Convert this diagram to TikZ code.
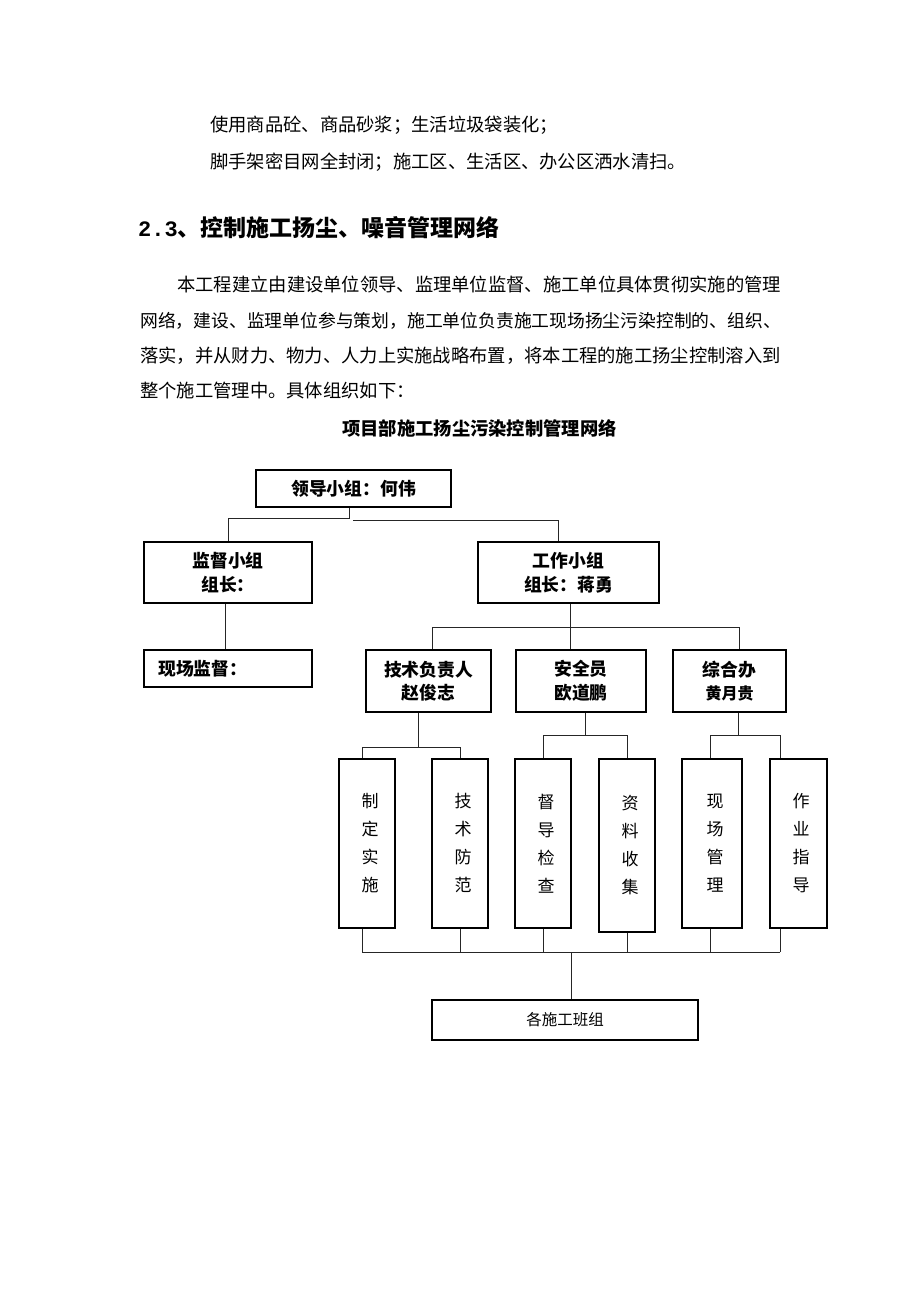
\documentclass[tikz,border=0pt]{standalone}
\usepackage{fontspec}
\setmainfont{Noto Sans CJK SC}
\newfontfamily\monof{Liberation Mono}
\begin{document}
\begin{tikzpicture}[x=1pt,y=-1pt,
  txt/.style={inner sep=0pt,anchor=west,font=\fontsize{18.3}{20}\selectfont},
  box/.style={draw,line width=1.7pt,inner sep=0pt,align=center},
  lab/.style={font=\fontsize{17.8}{23.5}\selectfont\bfseries},
  tall/.style={box,minimum height=169pt},
  vtxt/.style={inner sep=0pt,align=center,font=\fontsize{17}{28}\selectfont},
  conn/.style={draw,line width=0.9pt,black!85}]
\useasboundingbox (0,0) rectangle (920,1302);
% page text
\node[txt] (p1) at (210,125) {使用商品砼、商品砂浆；生活垃圾袋装化；};
\node[txt] (p2) at (210,162) {脚手架密目网全封闭；施工区、生活区、办公区洒水清扫。};
\node[txt,font=\fontsize{23}{24}\selectfont\bfseries] (h) at (138,228) {{\monof\bfseries\fontsize{22}{24}\selectfont 2.3}、控制施工扬尘、噪音管理网络};
\node[txt] (q1) at (177,285) {本工程建立由建设单位领导、监理单位监督、施工单位具体贯彻实施的管理};
\node[txt,font=\fontsize{17.8}{20}\selectfont] (q2) at (140,321) {网络，建设、监理单位参与策划，施工单位负责施工现场扬尘污染控制的、组织、};
\node[txt] (q3) at (140,356) {落实，并从财力、物力、人力上实施战略布置，将本工程的施工扬尘控制溶入到};
\node[txt] (q4) at (140,391) {整个施工管理中。具体组织如下：};
\node[inner sep=0pt,font=\fontsize{18.3}{20}\selectfont\bfseries] (title) at (479.5,428) {项目部施工扬尘污染控制管理网络};
% chart boxes
\node[box,lab,minimum width=195pt,minimum height=37pt] (lead) at (353.5,488.5) {领导小组：何伟};
\node[box,lab,minimum width=168pt,minimum height=61pt] (jd) at (228,572.5) {监督小组\\组长：};
\node[box,lab,minimum width=181pt,minimum height=61pt] (gz) at (568.5,572.5) {工作小组\\组长：蒋勇};
\node[box,minimum width=168pt,minimum height=37pt] (xc) at (228,668.5) {};
\node[lab,inner sep=0pt,anchor=west] (xct) at (158,669) {现场监督：};
\node[box,lab,minimum width=125pt,minimum height=62pt] (js) at (428.5,681) {技术负责人\\赵俊志};
\node[box,lab,minimum width=130pt,minimum height=62pt] (aq) at (581,681) {安全员\\欧道鹏};
\node[box,lab,minimum width=113pt,minimum height=62pt] (zh) at (729.5,681) {综合办\\{\fontsize{16}{20}\selectfont 黄月贵}};
\node[tall,minimum width=56pt] (t1) at (367,843.5) {};
\node[tall,minimum width=56pt] (t2) at (460,843.5) {};
\node[tall,minimum width=56pt] (t3) at (543,843.5) {};
\node[tall,minimum width=56pt,minimum height=173pt] (t4) at (627,845.5) {};
\node[tall,minimum width=60pt] (t5) at (712,843.5) {};
\node[tall,minimum width=57pt] (t6) at (798.5,843.5) {};
\node[vtxt] (v1) at (370,843.5) {制\\定\\实\\施};
\node[vtxt] (v2) at (463,843.5) {技\\术\\防\\范};
\node[vtxt] (v3) at (546,843.5) {督\\导\\检\\查};
\node[vtxt] (v4) at (630,845) {资\\料\\收\\集};
\node[vtxt] (v5) at (715,843.5) {现\\场\\管\\理};
\node[vtxt] (v6) at (801,843.5) {作\\业\\指\\导};
\node[box,minimum width=266pt,minimum height=40pt,font=\fontsize{15.5}{18}\selectfont] (bz) at (565,1020) {各施工班组};
% connectors
\coordinate (l1) at (349,518);
\coordinate (l2) at (353,520);
\draw[conn] (lead.south -| l1) -- (l1) -| (jd.north);
\draw[conn] (l2) -| ([xshift=-10.5pt]gz.north);
\draw[conn] ([xshift=-3pt]jd.south) -- ([xshift=-3pt]xc.north);
\coordinate (g1) at (570,627);
\coordinate (h1) at (432,627);
\coordinate (h2) at (739,627);
\draw[conn] (gz.south -| g1) -- (aq.north -| g1);
\draw[conn] (js.north -| h1) -- (h1) -- (h2) -- (zh.north -| h2);
\coordinate (k1) at (418,747);
\coordinate (k1a) at (362,747);
\coordinate (k1b) at (460,747);
\draw[conn] (js.south -| k1) -- (k1);
\draw[conn] (t1.north -| k1a) -- (k1a) -- (k1b) -- (t2.north -| k1b);
\coordinate (k2) at (585,735);
\coordinate (k2a) at (543,735);
\coordinate (k2b) at (627,735);
\draw[conn] (aq.south -| k2) -- (k2);
\draw[conn] (t3.north -| k2a) -- (k2a) -- (k2b) -- (t4.north -| k2b);
\coordinate (k3) at (738,735);
\coordinate (k3a) at (710,735);
\coordinate (k3b) at (780,735);
\draw[conn] (zh.south -| k3) -- (k3);
\draw[conn] (t5.north -| k3a) -- (k3a) -- (k3b) -- (t6.north -| k3b);
\coordinate (b1) at (362,952);
\coordinate (b2) at (460,952);
\coordinate (b3) at (543,952);
\coordinate (b4) at (627,952);
\coordinate (b5) at (710,952);
\coordinate (b6) at (780,952);
\coordinate (bc) at (571,952);
\draw[conn] (t1.south -| b1) -- (b1);
\draw[conn] (t2.south -| b2) -- (b2);
\draw[conn] (t3.south -| b3) -- (b3);
\draw[conn] (t4.south -| b4) -- (b4);
\draw[conn] (t5.south -| b5) -- (b5);
\draw[conn] (t6.south -| b6) -- (b6);
\draw[conn] (b1) -- (b6);
\draw[conn] (bc) -- (bz.north -| bc);
\end{tikzpicture}
\end{document}
